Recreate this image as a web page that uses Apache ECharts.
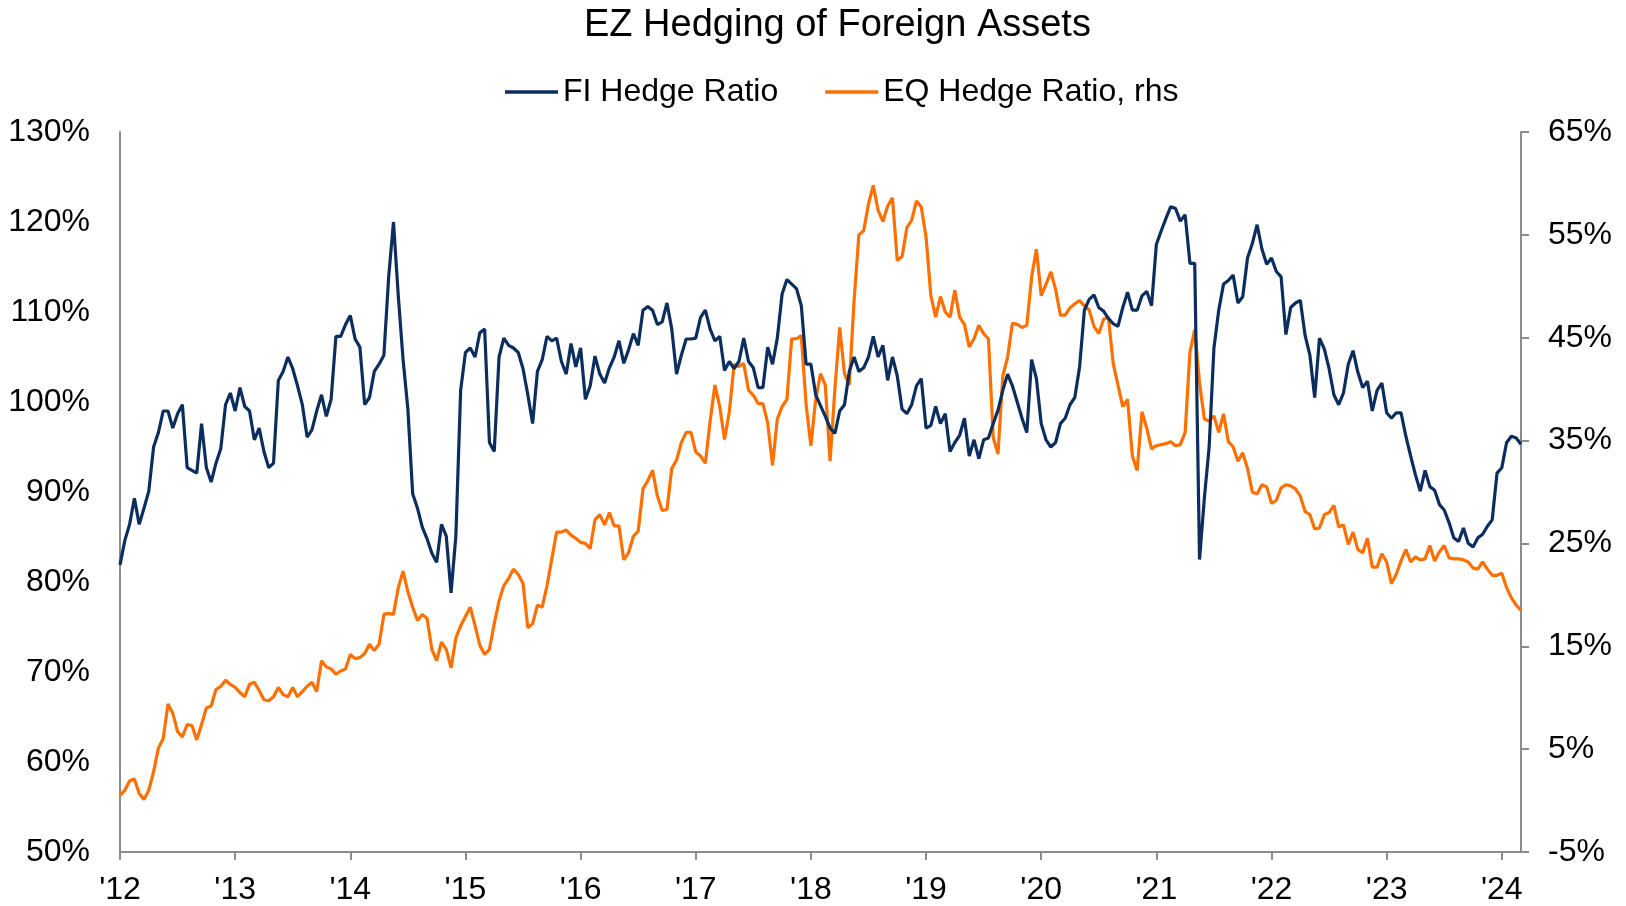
<!DOCTYPE html>
<html>
<head>
<meta charset="utf-8">
<title>EZ Hedging of Foreign Assets</title>
<script src="https://cdn.jsdelivr.net/npm/echarts@6/dist/echarts.min.js"></script>
<style>
  html, body { margin: 0; padding: 0; background: #fff; }
  #chart { width: 1626px; height: 906px; }
</style>
</head>
<body>
<div id="chart"></div>
<script>
// semi-monthly readings, Jan 2012 .. Mar 2024
const yearLabels = ["'12", "'13", "'14", "'15", "'16", "'17", "'18", "'19", "'20", "'21", "'22", "'23", "'24"];

// FI hedge ratio, % (lhs)
const fiHedge = [
  81.9, 84.6, 86.4, 89.3, 86.4, 88.2, 90.1, 95.0, 96.6, 99.0, 99.0, 97.1, 98.7, 99.7, 92.7, 92.4, 92.1, 97.6, 92.7, 91.1, 93.2, 94.8, 99.7, 101.0,
  99.0, 101.6, 99.5, 99.0, 95.8, 97.1, 94.5, 92.7, 93.2, 102.4, 103.4, 105.0, 103.7, 101.8, 99.7, 96.1, 96.9, 99.0, 100.8, 98.4, 100.3, 107.3, 107.3, 108.6,
  109.6, 107.0, 106.1, 99.7, 100.5, 103.4, 104.2, 105.2, 113.9, 120.0, 111.8, 104.7, 99.2, 89.8, 88.2, 86.1, 84.8, 83.2, 82.2, 86.4, 85.1, 78.8, 85.1, 101.3,
  105.5, 106.0, 105.0, 107.7, 108.1, 95.5, 94.5, 105.0, 107.1, 106.3, 106.0, 105.5, 103.7, 100.8, 97.6, 103.4, 104.7, 107.3, 106.8, 107.1, 104.5, 103.1, 106.5, 103.9,
  106.0, 100.3, 101.8, 105.1, 103.1, 102.1, 103.8, 105.0, 106.8, 104.3, 105.8, 107.6, 106.3, 110.2, 110.6, 110.2, 108.6, 108.9, 111.0, 108.1, 103.1, 105.2, 107.0, 107.0,
  107.1, 109.4, 110.2, 108.1, 106.8, 107.3, 103.5, 104.5, 103.7, 104.5, 107.1, 104.5, 103.8, 101.6, 101.6, 106.1, 104.2, 107.1, 112.0, 113.6, 113.1, 112.6, 110.7, 104.2,
  104.2, 100.8, 99.6, 98.4, 97.1, 96.5, 99.0, 99.7, 103.4, 105.0, 103.4, 103.8, 105.0, 107.3, 105.0, 106.3, 102.4, 105.0, 102.9, 99.2, 98.7, 99.7, 101.8, 102.6,
  97.1, 97.4, 99.5, 97.6, 98.7, 94.5, 95.5, 96.3, 98.2, 94.0, 95.8, 93.7, 95.8, 96.0, 97.6, 99.1, 101.3, 103.1, 101.8, 100.0, 98.2, 96.6, 104.7, 102.6,
  97.6, 95.8, 95.0, 95.5, 97.6, 98.2, 99.7, 100.5, 103.9, 110.2, 111.4, 111.9, 110.5, 110.1, 109.3, 108.7, 108.4, 110.5, 112.2, 110.2, 110.2, 111.8, 112.3, 110.7,
  117.5, 119.0, 120.4, 121.7, 121.5, 120.1, 120.8, 115.4, 115.4, 82.5, 89.3, 95.0, 106.0, 110.2, 113.1, 113.5, 114.1, 111.0, 111.7, 116.0, 117.6, 119.7, 117.0, 115.3,
  116.0, 114.5, 113.9, 107.5, 110.5, 111.0, 111.3, 107.4, 105.2, 100.5, 107.1, 105.9, 103.7, 100.8, 99.7, 101.0, 104.2, 105.7, 103.3, 101.6, 102.3, 99.0, 101.3, 102.1,
  98.8, 98.2, 98.8, 98.8, 96.2, 94.0, 91.9, 90.1, 92.4, 90.6, 90.2, 88.6, 88.0, 86.6, 84.9, 84.5, 86.0, 84.3, 83.9, 84.9, 85.3, 86.2, 86.9, 92.1,
  92.7, 95.5, 96.2, 96.0, 95.3
];

// EQ hedge ratio, % (rhs)
const eqHedge = [
  0.5, 1.0, 1.9, 2.1, 0.7, 0.1, 1.0, 2.8, 5.1, 6.0, 9.4, 8.5, 6.7, 6.2, 7.4, 7.3, 5.9, 7.4, 9.0, 9.2, 10.8, 11.1, 11.7, 11.3,
  11.0, 10.5, 10.1, 11.3, 11.5, 10.7, 9.8, 9.7, 10.1, 11.0, 10.3, 10.1, 11.0, 10.1, 10.6, 11.1, 11.5, 10.6, 13.6, 13.0, 12.8, 12.3, 12.6, 12.8,
  14.2, 13.8, 13.9, 14.3, 15.2, 14.6, 15.2, 18.1, 18.2, 18.1, 20.7, 22.3, 20.3, 18.8, 17.5, 18.1, 17.7, 14.7, 13.6, 15.4, 14.7, 12.9, 15.8, 17.0,
  17.9, 18.8, 17.0, 15.1, 14.2, 14.7, 17.2, 19.4, 20.9, 21.6, 22.5, 22.0, 21.1, 16.8, 17.2, 19.0, 18.8, 20.9, 23.5, 26.1, 26.1, 26.3, 25.8, 25.5,
  25.1, 25.0, 24.5, 27.3, 27.8, 26.8, 28.0, 26.7, 26.7, 23.4, 24.1, 25.7, 26.2, 30.3, 31.1, 32.1, 29.6, 28.2, 28.3, 32.3, 33.1, 34.8, 35.8, 35.8,
  33.9, 33.5, 32.8, 36.9, 40.4, 38.3, 35.1, 37.8, 42.4, 42.2, 42.5, 39.9, 39.4, 38.6, 38.6, 36.7, 32.6, 37.1, 38.3, 39.0, 44.9, 44.9, 45.2, 38.5,
  34.5, 39.0, 41.5, 40.4, 33.0, 40.0, 46.0, 41.5, 40.4, 48.6, 55.0, 55.4, 58.0, 59.8, 57.4, 56.3, 57.8, 58.6, 52.5, 52.9, 55.7, 56.4, 58.3, 57.7,
  54.8, 49.1, 47.0, 49.0, 47.5, 47.0, 49.6, 47.0, 46.3, 44.1, 44.9, 46.2, 45.4, 44.9, 35.3, 33.7, 41.3, 43.1, 46.4, 46.3, 46.0, 46.2, 50.9, 53.6,
  49.1, 50.2, 51.4, 49.7, 47.2, 47.2, 47.9, 48.3, 48.6, 48.1, 47.7, 46.1, 45.4, 46.8, 47.0, 42.5, 40.4, 38.3, 39.0, 33.5, 32.1, 37.8, 36.2, 34.2,
  34.5, 34.6, 34.7, 34.9, 34.5, 34.6, 35.8, 43.6, 45.8, 40.6, 37.1, 36.9, 37.4, 35.8, 37.6, 34.9, 34.4, 33.0, 33.8, 32.3, 30.0, 29.8, 30.7, 30.5,
  28.9, 29.2, 30.4, 30.7, 30.6, 30.3, 29.6, 28.1, 27.8, 26.4, 26.5, 27.8, 28.0, 28.7, 26.6, 26.8, 24.9, 26.1, 24.4, 24.1, 25.5, 22.7, 22.7, 24.0,
  23.2, 21.1, 22.0, 23.3, 24.4, 23.2, 23.7, 23.4, 23.5, 24.8, 23.3, 24.2, 24.8, 23.6, 23.5, 23.5, 23.4, 23.2, 22.6, 22.5, 23.2, 22.5, 21.9, 21.9,
  22.1, 20.7, 19.7, 19.0, 18.5
];

const dates = fiHedge.map((_, i) => {
  const y = 2012 + Math.floor(i / 24);
  const m = Math.floor((i % 24) / 2) + 1;
  const d = i % 2 === 0 ? "01" : "16";
  return `${y}-${String(m).padStart(2, "0")}-${d}`;
});

const FONT = "'Liberation Sans', Arial, sans-serif";
const AXIS_GREY = "#8c8c8c";
const isYearStart = (index) => index % 24 === 0;

const chart = echarts.init(document.getElementById("chart"), null, { renderer: "canvas" });
chart.setOption({
  animation: false,
  textStyle: { fontFamily: FONT },
  title: {
    text: "EZ Hedging of Foreign Assets",
    left: 584,
    top: 7,
    padding: 0,
    textStyle: { fontFamily: FONT, fontSize: 38, fontWeight: "normal", color: "#000" },
  },
  legend: {
    left: 505,
    top: 76,
    padding: 0,
    icon: "rect",
    itemWidth: 53,
    itemHeight: 3.5,
    itemGap: 47,
    textStyle: { fontFamily: FONT, fontSize: 32, color: "#000" },
    data: ["FI Hedge Ratio", "EQ Hedge Ratio, rhs"],
  },
  grid: { left: 120, right: 105, top: 132, bottom: 54, containLabel: false },
  xAxis: {
    type: "category",
    data: dates,
    boundaryGap: false,
    axisLine: { onZero: false, lineStyle: { color: AXIS_GREY, width: 2 } },
    axisTick: { interval: (index) => isYearStart(index), length: 8, lineStyle: { color: AXIS_GREY, width: 2 } },
    axisLabel: {
      interval: (index) => isYearStart(index),
      formatter: (value, index) => yearLabels[index / 24] ?? "",
      margin: 22,
      fontFamily: FONT,
      fontSize: 32,
      color: "#000",
    },
    splitLine: { show: false },
  },
  yAxis: [
    {
      type: "value",
      min: 50,
      max: 130,
      interval: 10,
      axisLine: { show: true, lineStyle: { color: AXIS_GREY, width: 2 } },
      axisTick: { show: false },
      axisLabel: { formatter: "{value}%", margin: 30, fontFamily: FONT, fontSize: 32, color: "#000" },
      splitLine: { show: false },
    },
    {
      type: "value",
      position: "right",
      min: -5,
      max: 65,
      interval: 10,
      axisLine: { show: true, lineStyle: { color: AXIS_GREY, width: 2 } },
      axisTick: { show: true, length: 8, lineStyle: { color: AXIS_GREY, width: 2 } },
      axisLabel: { formatter: "{value}%", margin: 27, fontFamily: FONT, fontSize: 32, color: "#000" },
      splitLine: { show: false },
    },
  ],
  series: [
    {
      name: "FI Hedge Ratio",
      type: "line",
      yAxisIndex: 0,
      data: fiHedge,
      showSymbol: false,
      color: "#0b2e5e",
      lineStyle: { width: 3.2, color: "#0b2e5e" },
      z: 3,
    },
    {
      name: "EQ Hedge Ratio, rhs",
      type: "line",
      yAxisIndex: 1,
      data: eqHedge,
      showSymbol: false,
      color: "#ff7000",
      lineStyle: { width: 3.2, color: "#ff7000" },
      z: 2,
    },
  ],
});
</script>
</body>
</html>
